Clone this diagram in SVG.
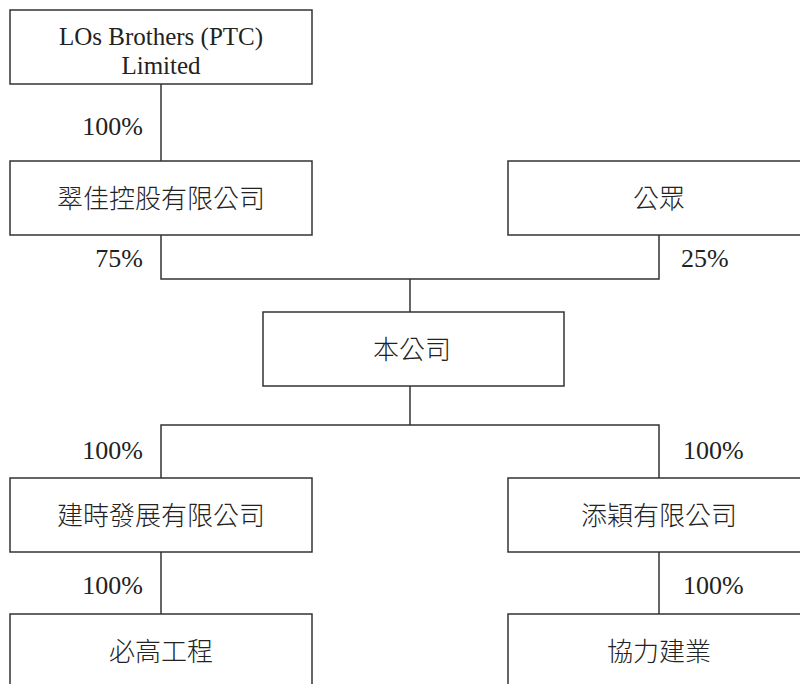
<svg xmlns="http://www.w3.org/2000/svg" width="800" height="684" viewBox="0 0 800 684">
<style>
.box{fill:#fff;stroke:#333;stroke-width:1.5}
.ln{fill:none;stroke:#333;stroke-width:1.5}
.t{font-family:"Liberation Serif","Noto Sans CJK TC",serif;font-size:26px;fill:#222}
.k{font-weight:300}
.c{text-anchor:middle}
.e{text-anchor:end}
</style>
<rect width="800" height="684" fill="#fff"/>
<g id="connectors">
<path class="ln" d="M161 84V161"/>
<path class="ln" d="M161 235V279H659V235"/>
<path class="ln" d="M410 279V312"/>
<path class="ln" d="M410 386V425"/>
<path class="ln" d="M161 478V425H659V478"/>
<path class="ln" d="M161 552V614"/>
<path class="ln" d="M659 552V614"/>
<text class="t e" x="143" y="135">100%</text>
<text class="t e" x="143" y="267">75%</text>
<text class="t" x="681" y="267">25%</text>
<text class="t e" x="143" y="459">100%</text>
<text class="t" x="683" y="459">100%</text>
<text class="t e" x="143" y="594">100%</text>
<text class="t" x="683" y="594">100%</text>
</g>
<g id="los">
<rect class="box" x="10" y="10" width="302" height="74"/>
<text class="t c" x="161" y="45" style="font-size:25px">LOs Brothers (PTC)</text>
<text class="t c" x="161" y="74" style="font-size:25px">Limited</text>
</g>
<g id="cuijia">
<rect class="box" x="10" y="161" width="302" height="74"/>
<text class="t k c" x="161" y="208">翠佳控股有限公司</text>
</g>
<g id="public">
<rect class="box" x="508" y="161" width="302" height="74"/>
<text class="t k c" x="659" y="208">公眾</text>
</g>
<g id="company">
<rect class="box" x="263" y="312" width="301" height="74"/>
<text class="t k c" x="412" y="359">本公司</text>
</g>
<g id="jianshi">
<rect class="box" x="10" y="478" width="302" height="74"/>
<text class="t k c" x="161" y="525">建時發展有限公司</text>
</g>
<g id="tianying">
<rect class="box" x="508" y="478" width="302" height="74"/>
<text class="t k c" x="659" y="525">添穎有限公司</text>
</g>
<g id="bigao">
<rect class="box" x="10" y="614" width="302" height="74"/>
<text class="t k c" x="161" y="661">必高工程</text>
</g>
<g id="xieli">
<rect class="box" x="508" y="614" width="302" height="74"/>
<text class="t k c" x="659" y="661">協力建業</text>
</g>
</svg>
